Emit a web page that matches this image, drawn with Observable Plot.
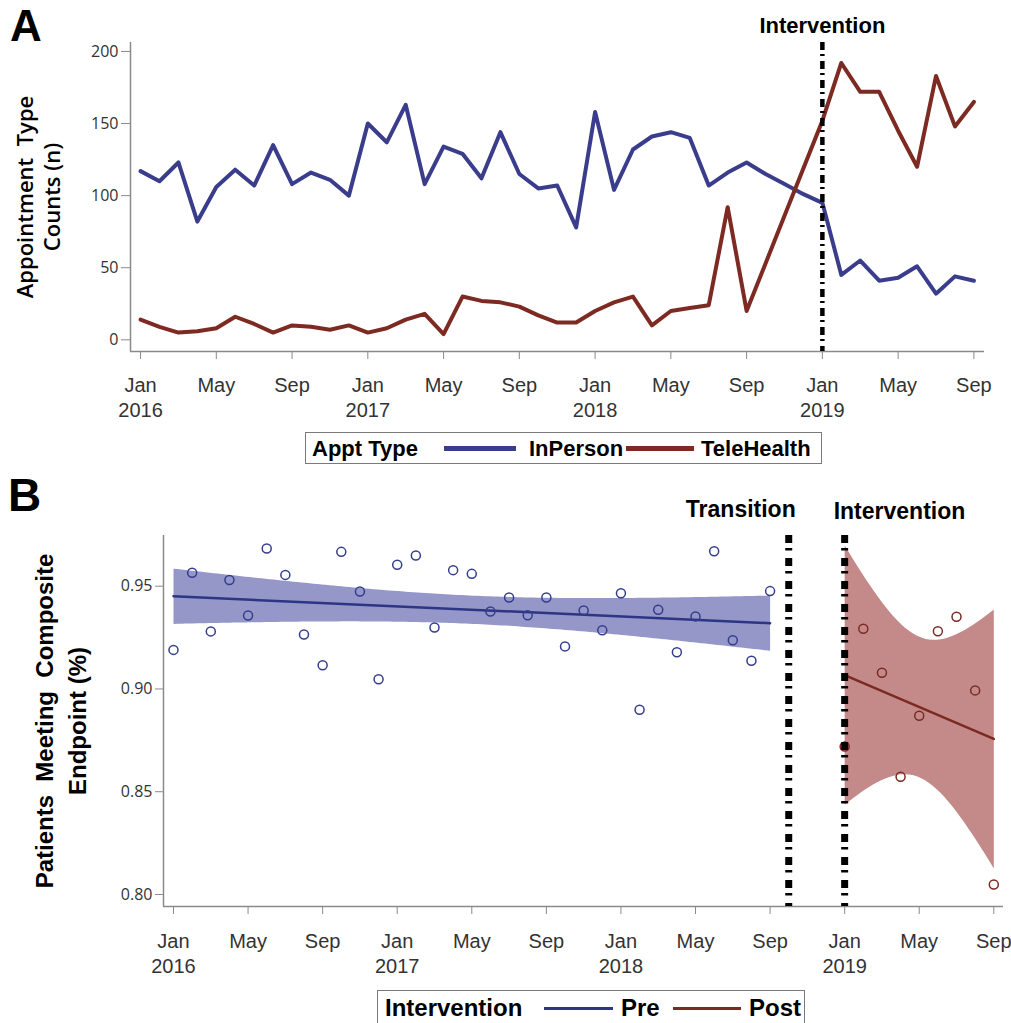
<!DOCTYPE html>
<html><head><meta charset="utf-8">
<script src="https://cdn.jsdelivr.net/npm/d3@7"></script>
<script src="https://cdn.jsdelivr.net/npm/@observablehq/plot@0.6"></script>
<style>
body{margin:0;background:#fff;}
#wrap{position:relative;width:1011px;height:1023px;overflow:hidden;background:#fff;}
#wrap svg{position:absolute;left:0;background:none !important;}
.letter{position:absolute;font-family:"Liberation Sans",Arial,sans-serif;font-weight:bold;line-height:1;color:#000;}
.ytitle{position:absolute;transform:rotate(-90deg);transform-origin:center;white-space:pre;text-align:center;color:#000;}
.legend{position:absolute;border:1.5px solid #7a7a7a;box-sizing:border-box;background:#fff;font-family:"Liberation Sans",Arial,sans-serif;font-weight:bold;color:#000;}
.legend span{position:absolute;white-space:nowrap;line-height:1;}
.legend i{position:absolute;display:block;}
</style></head>
<body><div id="wrap"></div>
<script>
// ---------- data ----------
const monthIdx = d3.range(0, 45); // Jan 2016 .. Sep 2019
const inPerson = [117,110,123,82,106,118,107,135,108,116,111,100,150,137,163,108,134,129,112,144,115,105,107,78,158,104,132,141,144,140,107,116,123,115,108,101,95,45,55,41,43,51,32,44,41];
const teleHealth = [14,9,5,6,8,16,11,5,10,9,7,10,5,8,14,18,4,30,27,26,23,17,12,12,20,26,30,10,20,22,24,92,20,53,86,119,152,192,172,172,145,120,183,148,165];
const preIdx = d3.range(0, 33);  // Jan 2016 .. Sep 2018
const preValues = [0.919,0.9565,0.928,0.953,0.9357,0.9683,0.9555,0.9265,0.9115,0.9667,0.9474,0.9047,0.9604,0.9649,0.9299,0.9578,0.956,0.9377,0.9445,0.9359,0.9445,0.9207,0.9382,0.9286,0.9466,0.8899,0.9385,0.9179,0.9353,0.967,0.9237,0.9137,0.9476];
const postIdx = d3.range(36, 45); // Jan 2019 .. Sep 2019
const postValues = [0.872,0.9293,0.9079,0.8573,0.887,0.9281,0.9351,0.8993,0.8049];
const xTickVals = [0,4,8,12,16,20,24,28,32,36,40,44];
const xTickLabels = ["Jan\n2016","May","Sep","Jan\n2017","May","Sep","Jan\n2018","May","Sep","Jan\n2019","May","Sep"];
const yTicksA = [0,50,100,150,200];
const yTicksB = [0.80,0.85,0.90,0.95];
const interventionIdx = 36; // Jan 2019
const transitionIdx = 33;   // Oct 2018
const seriesA = ["InPerson","TeleHealth"];
const colorsA = ["#3a3d8c","#7d2a22"];
const groupsB = ["Pre","Post"];

// ---------- layout / style ----------
const SANS = '"Liberation Sans",Arial,sans-serif';
const TICKF = '"Open Sans","Noto Sans",sans-serif';
const AXIS = "#8a8a8a";
const xDomA = [-0.53, 44.56];
const yDomA = [-8.1, 206.2];
const xDomB = [-0.536, 44.52];
const yDomB = [0.79416, 0.97466];

const rowsA = monthIdx.map((m, i) => ({m, InPerson: inPerson[i], TeleHealth: teleHealth[i]}));
const preRows = preIdx.map((m, i) => ({m, v: preValues[i]}));
const postRows = postIdx.map((m, i) => ({m, v: postValues[i]}));
const fmtX = (d) => xTickLabels[xTickVals.indexOf(d)];

const wrap = document.getElementById("wrap");

const plotA = Plot.plot({
  width: 1011, height: 420,
  marginLeft: 130, marginRight: 27, marginTop: 42, marginBottom: 69,
  style: {background: "none", overflow: "visible"},
  x: {domain: xDomA, axis: null},
  y: {domain: yDomA, axis: null},
  marks: [
    Plot.ruleY([yDomA[0]], {stroke: AXIS, strokeWidth: 1.5}),
    Plot.ruleX([xDomA[0]], {stroke: AXIS, strokeWidth: 1.5}),
    Plot.axisY(yTicksA, {tickSize: 9, tickPadding: 3, fontSize: 16, fontFamily: TICKF, color: "#333", stroke: AXIS, label: null}),
    Plot.axisX(xTickVals, {tickSize: 8, tickPadding: 15, fontSize: 20, fontFamily: SANS, lineHeight: 1.25, color: "#333", stroke: AXIS, tickFormat: fmtX, label: null}),
    Plot.lineY(rowsA, {x: "m", y: seriesA[0], stroke: colorsA[0], strokeWidth: 4}),
    Plot.lineY(rowsA, {x: "m", y: seriesA[1], stroke: colorsA[1], strokeWidth: 4}),
    Plot.ruleX([interventionIdx], {stroke: "#000", strokeWidth: 4.5, strokeDasharray: "8,4,2,5"}),
    Plot.text([interventionIdx], {x: d => d, frameAnchor: "top", lineAnchor: "middle", dy: -17, text: () => "Intervention", fontWeight: "bold", fontSize: 22, fontFamily: SANS, fill: "#000"})
  ]
});
plotA.style.top = "0px";
wrap.appendChild(plotA);

const plotB = Plot.plot({
  width: 1011, height: 520,
  marginLeft: 163, marginRight: 8, marginTop: 75, marginBottom: 74,
  style: {background: "none", overflow: "visible"},
  x: {domain: xDomB, axis: null},
  y: {domain: yDomB, axis: null},
  marks: [
    Plot.ruleY([yDomB[0]], {stroke: AXIS, strokeWidth: 1.5}),
    Plot.ruleX([xDomB[0]], {stroke: AXIS, strokeWidth: 1.5}),
    Plot.axisY(yTicksB, {tickSize: 8, tickPadding: 3, fontSize: 16, fontFamily: TICKF, color: "#333", stroke: AXIS, tickFormat: d3.format(".2f"), label: null}),
    Plot.axisX(xTickVals, {tickSize: 8, tickPadding: 16, fontSize: 20, fontFamily: SANS, lineHeight: 1.25, color: "#333", stroke: AXIS, tickFormat: fmtX, label: null}),
    Plot.linearRegressionY(preRows, {x: "m", y: "v", ci: 0.95, stroke: "#2d3584", strokeWidth: 2.5, fill: "#9497c8", fillOpacity: 1}),
    Plot.linearRegressionY(postRows, {x: "m", y: "v", ci: 0.95, stroke: "#7a2a22", strokeWidth: 2.5, fill: "#c48a8a", fillOpacity: 1}),
    Plot.dot(preRows, {x: "m", y: "v", r: 4.5, stroke: "#333d8c", strokeWidth: 1.5, fill: "none"}),
    Plot.dot(postRows, {x: "m", y: "v", r: 4.5, stroke: "#7a2a22", strokeWidth: 1.5, fill: "none"}),
    Plot.ruleX([transitionIdx, interventionIdx], {stroke: "#000", strokeWidth: 7, strokeDasharray: "8,5,2.5,7.5"}),
    Plot.text([transitionIdx], {x: d => d, frameAnchor: "top", lineAnchor: "middle", dy: -26, dx: 7, textAnchor: "end", text: () => "Transition", fontWeight: "bold", fontSize: 23, fontFamily: SANS, fill: "#000"}),
    Plot.text([interventionIdx], {x: d => d, frameAnchor: "top", lineAnchor: "middle", dy: -24, dx: -11, textAnchor: "start", text: () => "Intervention", fontWeight: "bold", fontSize: 23, fontFamily: SANS, fill: "#000"})
  ]
});
plotB.style.top = "460px";
wrap.appendChild(plotB);

// ---------- panel letters & axis titles ----------
function addDiv(cls, html, css) {
  const d = document.createElement("div");
  d.className = cls; d.innerHTML = html;
  Object.assign(d.style, css);
  wrap.appendChild(d);
  return d;
}
addDiv("letter", "A", {left: "10px", top: "4px", fontSize: "44px"});
addDiv("letter", "B", {left: "8px", top: "472px", fontSize: "46px"});
addDiv("ytitle", "Appointment  Type\nCounts (n)", {left: (38 - 130) + "px", top: (197 - 27) + "px", width: "260px", height: "54px", lineHeight: "27px", fontSize: "22px", fontWeight: "600", fontFamily: TICKF});
addDiv("ytitle", "Patients  Meeting  Composite\nEndpoint (%)", {left: (61 - 190) + "px", top: (721 - 33) + "px", width: "380px", height: "66px", lineHeight: "33px", fontSize: "24px", fontWeight: "bold", fontFamily: SANS});

// ---------- legends ----------
function legend(box, title, names, colors, thick, items) {
  const L = addDiv("legend", "", {left: box[0] + "px", top: box[1] + "px", width: box[2] + "px", height: box[3] + "px", fontSize: box[4] + "px"});
  const t = document.createElement("span");
  t.textContent = title; t.style.left = items.title + "px"; t.style.top = items.textTop + "px";
  L.appendChild(t);
  names.forEach((n, k) => {
    const sw = document.createElement("i");
    Object.assign(sw.style, {left: items.sw[k][0] + "px", width: items.sw[k][1] + "px", top: (items.lineMid - thick / 2) + "px", height: thick + "px", background: colors[k]});
    L.appendChild(sw);
    const s = document.createElement("span");
    s.textContent = n; s.style.left = items.names[k] + "px"; s.style.top = items.textTop + "px";
    L.appendChild(s);
  });
}
legend([305, 432, 517, 32, 22], "Appt Type", seriesA, colorsA, 5,
  {title: 6, textTop: 5, lineMid: 15.5, sw: [[138, 72], [320, 68]], names: [223, 395]});
legend([377, 990, 428, 44, 24], "Intervention", groupsB, ["#2d3584", "#7a2a22"], 3,
  {title: 7, textTop: 5, lineMid: 17.5, sw: [[166, 69], [295, 68]], names: [243, 371]});
</script>
</body></html>
